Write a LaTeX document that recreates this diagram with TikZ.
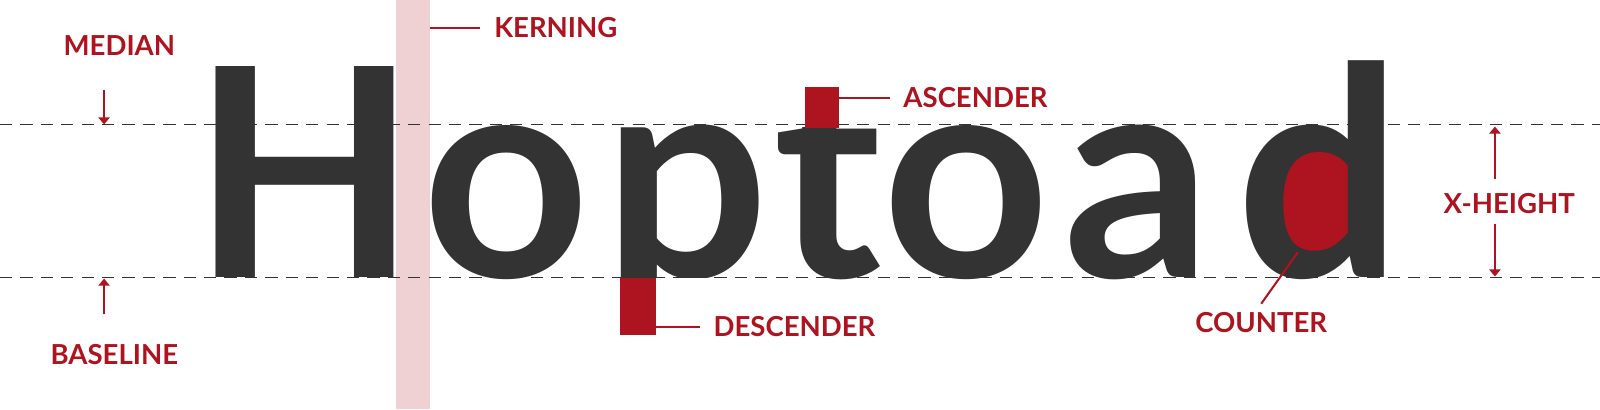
\documentclass[tikz,border=0pt]{standalone}
\usepackage{fontspec}
\setmainfont{Lato}
\usepackage{xcolor}
\usetikzlibrary{arrows.meta,positioning}
\definecolor{Ink}{HTML}{333333}
\definecolor{Crimson}{HTML}{AE141F}
\definecolor{Blush}{HTML}{EFD0D3}

\begin{document}
\begin{tikzpicture}[x=0.5pt,y=-0.5pt,
  glyph/.style={inner sep=0pt,anchor=base,text=Ink,font=\fontsize{143}{143}\selectfont\bfseries},
  tag/.style={inner sep=0pt,text=Crimson,font=\fontsize{13.5}{14}\selectfont\bfseries},
  guide/.style={Ink,line width=0.6pt,dash pattern=on 6pt off 4pt},
  leader/.style={Crimson,line width=1pt},
  pointer/.style={leader,-{Triangle[width=5.5pt,length=3.5pt]}}]
  \fill[white] (0,0) rectangle (1568,401);
  \useasboundingbox (0,0) rectangle (1568,401);
  \fill[Blush] (388,0) rectangle (421,401);
  \draw[guide] (0,122) -- (1568,122);
  \draw[guide] (0,272) -- (1568,272);
  % counter shows through the bowl of the d
  \fill[Crimson] (1292,199) ellipse [x radius=50,y radius=55];
  \node[glyph] (gH) at (299,272) {H};
  \node[glyph] (gO) at (496,272) {o};
  \begin{scope}
    \clip (600,0) rectangle (760,272);
    \node[glyph] (gP) at (673,272) {p};
  \end{scope}
  \begin{scope}
    \clip (740,125) rectangle (870,401);
    \node[glyph] (gT) at (811,272) {t};
  \end{scope}
  \node[glyph] (gO2) at (947,272) {o};
  \node[glyph] (gA) at (1115,272) {a};
  \node[glyph] (gD) at (1293,272) {d};
  \fill[Crimson] (789,85) rectangle (822,125);
  \fill[Crimson] (608,272) rectangle (643,328);

  \node[tag] (median) at (117,45) {MEDIAN};
  \coordinate (medTail) at (102,88);
  \coordinate (medTip) at (102,122);
  \draw[pointer] (medTail) -- (medTip);
  \node[tag] (baseline) at (112,347) {BASELINE};
  \coordinate (baseTail) at (102,308);
  \coordinate (baseTip) at (102,273);
  \draw[pointer] (baseTail) -- (baseTip);

  \node[tag,anchor=west] (kerning) at (484,27) {KERNING};
  \coordinate (kernEdge) at (421,27);
  \draw[leader] (kernEdge) -- ([xshift=-7pt]kerning.west);
  \node[tag,anchor=west] (ascender) at (885,96) {ASCENDER};
  \coordinate (ascEdge) at (822,96);
  \draw[leader] (ascEdge) -- ([xshift=-6.5pt]ascender.west);
  \node[tag,anchor=west] (descender) at (699,320) {DESCENDER};
  \coordinate (descEdge) at (643,320);
  \draw[leader] (descEdge) -- ([xshift=-6.5pt]descender.west);
  \node[tag] (counter) at (1236,316) {COUNTER};
  \coordinate (bowl) at (1272,247);
  \draw[leader] (bowl) -- ([yshift=4pt]counter.north);

  \node[tag] (xheight) at (1479,199) {X-HEIGHT};
  \coordinate (xhTop) at (1465,124);
  \coordinate (xhBot) at (1465,271);
  \draw[pointer] (1465,175) coordinate (xhUp) -- (xhTop);
  \draw[pointer] (1465,220) coordinate (xhDown) -- (xhBot);
\end{tikzpicture}
\end{document}
